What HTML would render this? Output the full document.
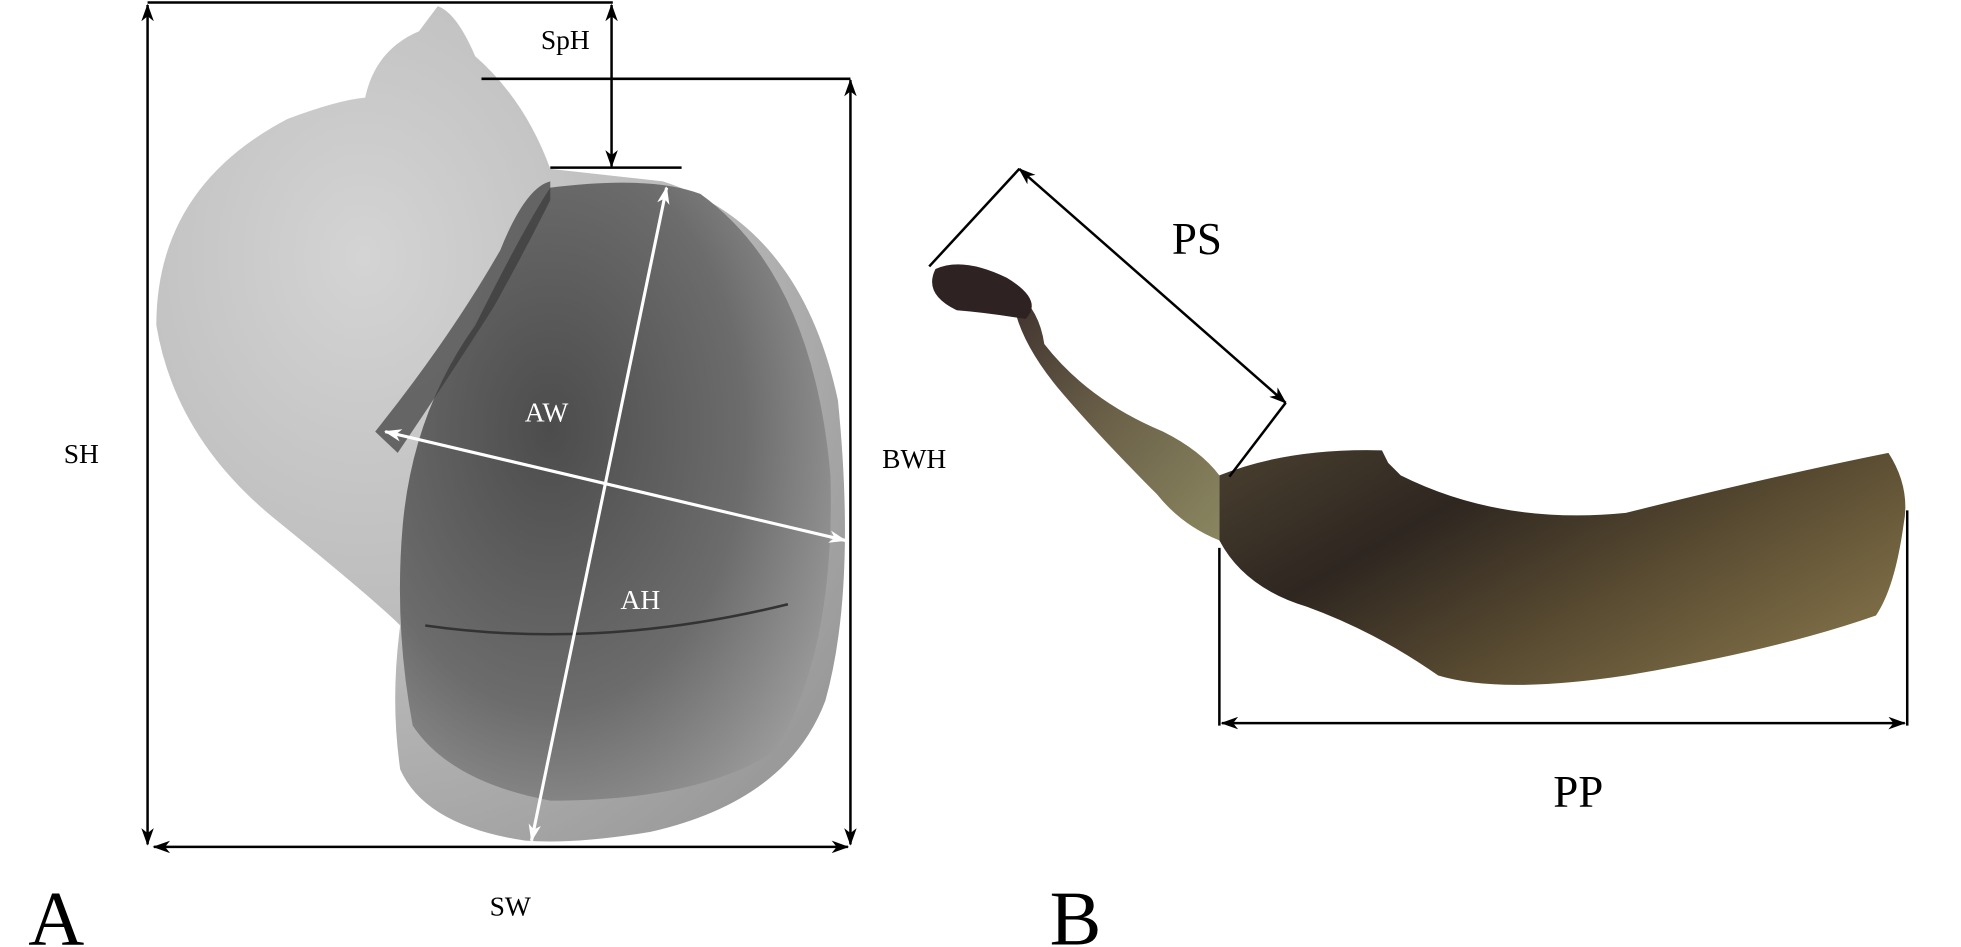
<!DOCTYPE html>
<html><head><meta charset="utf-8"><style>
html,body{margin:0;padding:0;background:#fff;width:1961px;height:947px;overflow:hidden}
svg{display:block}
text{font-family:"Liberation Serif",serif}
</style></head><body>
<svg width="1961" height="947" viewBox="0 0 1568 757" preserveAspectRatio="none" xmlns="http://www.w3.org/2000/svg">
<defs>
<marker id="ab" markerWidth="14" markerHeight="10" refX="13" refY="5" orient="auto-start-reverse" markerUnits="userSpaceOnUse"><path d="M0,0 L14,5 L0,10 L4,5 Z" fill="#000"/></marker>
<marker id="aw" markerWidth="14" markerHeight="10" refX="13" refY="5" orient="auto-start-reverse" markerUnits="userSpaceOnUse"><path d="M0,0 L14,5 L0,10 L4,5 Z" fill="#fff"/></marker>
<radialGradient id="g1" cx="0.3" cy="0.3" r="0.85"><stop offset="0" stop-color="#d4d4d4"/><stop offset="0.5" stop-color="#bdbdbd"/><stop offset="1" stop-color="#9a9a9a"/></radialGradient>
<radialGradient id="g2" cx="0.35" cy="0.4" r="0.75"><stop offset="0" stop-color="#4c4c4c"/><stop offset="0.6" stop-color="#6c6c6c"/><stop offset="1" stop-color="#9c9c9c"/></radialGradient>
<linearGradient id="gb" x1="0" y1="0" x2="1" y2="0.6"><stop offset="0" stop-color="#4a4030"/><stop offset="0.35" stop-color="#2e2620"/><stop offset="0.7" stop-color="#5a4c32"/><stop offset="1" stop-color="#7a6a44"/></linearGradient>
<linearGradient id="gd" x1="0" y1="0" x2="1" y2="1"><stop offset="0" stop-color="#3a2c2c"/><stop offset="0.5" stop-color="#6a6048"/><stop offset="1" stop-color="#8a8660"/></linearGradient>
</defs>
<!-- shell -->
<path d="M350,5 Q365,10 380,45 Q420,80 440,135 L530,145 Q640,180 670,320 Q685,470 660,560 Q630,640 520,665 Q460,675 420,672 Q340,660 320,615 Q312,560 320,500 Q300,480 220,415 Q140,350 125,260 Q125,150 230,95 Q270,80 292,78 Q300,40 335,25 Z" fill="url(#g1)"/>
<path d="M440,150 Q520,140 560,155 Q650,220 664,380 Q668,520 620,600 Q560,640 440,640 Q360,625 330,580 Q315,500 322,420 Q330,330 380,260 Q420,180 440,150 Z" fill="url(#g2)"/>
<path d="M440,145 Q420,150 400,200 Q360,270 300,345 L318,362 Q360,300 395,245 Q420,200 440,160 Z" fill="#3a3a3a" opacity="0.7"/>
<path d="M340,500 Q480,520 630,483" stroke="#333" stroke-width="2" fill="none"/>
<!-- panel A lines -->
<g stroke="#000" stroke-width="2" fill="none">
<line x1="118" y1="2" x2="490" y2="2"/>
<line x1="118" y1="4" x2="118" y2="675" marker-start="url(#ab)" marker-end="url(#ab)"/>
<line x1="489" y1="4" x2="489" y2="133" marker-start="url(#ab)" marker-end="url(#ab)"/>
<line x1="440" y1="134" x2="545" y2="134"/>
<line x1="385" y1="63" x2="680" y2="63"/>
<line x1="680" y1="64" x2="680" y2="675" marker-start="url(#ab)" marker-end="url(#ab)"/>
<line x1="123" y1="677" x2="678" y2="677" marker-start="url(#ab)" marker-end="url(#ab)"/>
</g>
<g stroke="#fff" stroke-width="2.5">
<line x1="533" y1="150" x2="425" y2="672" marker-start="url(#aw)" marker-end="url(#aw)"/>
<line x1="308" y1="345" x2="676" y2="432" marker-start="url(#aw)" marker-end="url(#aw)"/>
</g>
<text x="452" y="39" font-size="22" text-anchor="middle">SpH</text>
<text x="65" y="370" font-size="22" text-anchor="middle">SH</text>
<text x="731" y="374" font-size="22" text-anchor="middle">BWH</text>
<text x="408" y="732" font-size="22" text-anchor="middle">SW</text>
<text x="437" y="337" font-size="22" text-anchor="middle" fill="#fff">AW</text>
<text x="512" y="487" font-size="22" text-anchor="middle" fill="#fff">AH</text>
<text x="45" y="755" font-size="62" text-anchor="middle">A</text>
<text x="860" y="755" font-size="62" text-anchor="middle">B</text>
<!-- specimen B -->
<path d="M800,225 Q830,240 835,275 Q870,320 930,345 Q960,360 975,380 L975,432 Q945,420 925,395 Q880,350 850,315 Q820,280 812,250 Z" fill="url(#gd)"/>
<path d="M748,215 Q770,205 805,222 Q835,240 820,255 Q790,250 765,248 Q738,235 748,215 Z" fill="#2e2222"/>
<path d="M975,380 Q1030,358 1105,360 L1110,370 1120,380 Q1200,420 1300,410 Q1420,380 1510,362 Q1528,390 1522,420 Q1515,470 1500,492 Q1420,520 1300,540 Q1200,555 1150,540 Q1100,505 1045,485 Q995,470 975,432 Z" fill="url(#gb)"/>
<!-- panel B lines -->
<g stroke="#000" stroke-width="2" fill="none">
<line x1="743" y1="213" x2="815" y2="135"/>
<line x1="815" y1="135" x2="1028" y2="322" marker-start="url(#ab)" marker-end="url(#ab)"/>
<line x1="1028" y1="322" x2="983" y2="381"/>
<line x1="975" y1="438" x2="975" y2="580"/>
<line x1="1525" y1="408" x2="1525" y2="580"/>
<line x1="977" y1="578" x2="1523" y2="578" marker-start="url(#ab)" marker-end="url(#ab)"/>
</g>
<text x="957" y="203" font-size="36" text-anchor="middle">PS</text>
<text x="1262" y="645" font-size="36" text-anchor="middle">PP</text>
</svg>
</body></html>
